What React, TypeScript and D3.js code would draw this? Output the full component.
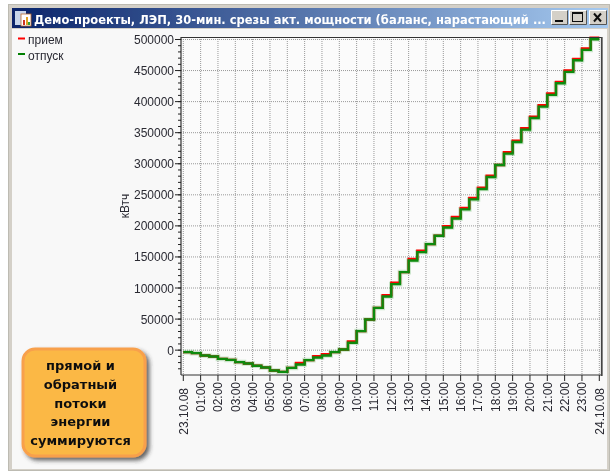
import React from "react";
import * as d3 from "d3";

const otpusk = [
  -3200, -4800, -8600, -10200, -14000, -15600, -19300, -21500, -25000, -28000, -32700, -35000,
  -28500, -23000, -16000, -11800, -8600, -3200, 1000, 11800, 30600, 49400, 68000, 86400,
  106300, 125600, 144400, 157800, 170700, 184000, 197300, 212000, 226600, 242700, 259400, 278700,
  298000, 316300, 335000, 355000, 373700, 392000, 410800, 429600, 447800, 466600, 483300, 500500,
];
const priem = [
  -3200, -4800, -8600, -10200, -14000, -15600, -19300, -21500, -25000, -28000, -32700, -35000,
  -28500, -20800, -16000, -9600, -6600, -3200, 1000, 14000, 30600, 49400, 68000, 88600,
  108500, 125600, 146800, 160000, 170700, 184000, 199300, 214200, 228800, 244900, 261600, 280900,
  298000, 318500, 337200, 357200, 375900, 394200, 413000, 431800, 450000, 468800, 485500, 502700,
];
const yTicks = [0, 50000, 100000, 150000, 200000, 250000, 300000, 350000, 400000, 450000, 500000];
const yMinor = d3.range(-30000, 501000, 10000);
const hourLabels = [
  "23.10.08", "01:00", "02:00", "03:00", "04:00", "05:00", "06:00", "07:00", "08:00", "09:00",
  "10:00", "11:00", "12:00", "13:00", "14:00", "15:00", "16:00", "17:00", "18:00", "19:00",
  "20:00", "21:00", "22:00", "23:00", "24.10.08",
];
const noteLines = ["прямой и", "обратный", "потоки", "энергии", "суммируются"];
const legendItems = [
  { label: "прием", color: "#ff0000" },
  { label: "отпуск", color: "#008000" },
];
const titleText = "Демо-проекты, ЛЭП, 30-мин. срезы акт. мощности (баланс, нарастающий ...";

const x = d3.scaleLinear().domain([0, 24]).range([183.3, 599.3]);
const y = d3.scaleLinear().domain([-40000, 504000]).range([375, 37]);
const stepLine = d3
  .line<number>()
  .x((_, i) => x(i / 2))
  .y((d) => y(d))
  .curve(d3.curveStepAfter);
const withEnd = (a: number[]) => [...a, a[a.length - 1]];

const sans = "'Liberation Sans', Arial, sans-serif";
const bold = "'DejaVu Sans', Verdana, sans-serif";
const text = "#2a2a33";

function WinButton({ bx, w, children }: { bx: number; w: number; children: React.ReactNode }) {
  return (
    <g transform={`translate(${bx},10)`}>
      <rect width={w} height={15} fill="#d4d0c8" />
      <path d={`M0.5,15V0.5H${w - 0.5}`} fill="none" stroke="#fff" />
      <path d={`M${w - 0.5},0.5V14.5H0.5`} fill="none" stroke="#555" />
      {children}
    </g>
  );
}

export default function App() {
  return (
    <svg
      width={612}
      height={473}
      style={{ position: "absolute", left: 0, top: 0 }}
      fontFamily={sans}
    >
      <defs>
        <linearGradient id="tb" x1="0" x2="1" y1="0" y2="0">
          <stop offset="0" stopColor="#0a246a" />
          <stop offset="1" stopColor="#a6caf0" />
        </linearGradient>
        <filter id="soft" filterUnits="userSpaceOnUse" x="0" y="0" width="612" height="473">
          <feGaussianBlur stdDeviation="0.35" />
        </filter>
        <filter id="shadow" x="-10%" y="-10%" width="125%" height="125%">
          <feDropShadow dx="3" dy="3" stdDeviation="2" floodColor="#333" floodOpacity="0.75" />
        </filter>
      </defs>
      <g filter="url(#soft)">
        <rect width={612} height={473} fill="#fff" />
        <rect x={8.5} y={4.5} width={601} height={466} fill="#d4d0c8" stroke="#bdbbb2" />
        <rect x={12} y={29} width={595} height={440} fill="#f8f8f8" />
        <rect x={12} y={8} width={596} height={20} fill="url(#tb)" />

        {/* window icon */}
        <rect x={15} y={11} width={11} height={14} fill="#c9d6ea" />
        <rect x={21} y={14} width={10} height={12} fill="#fff" stroke="#b86a30" strokeWidth={0.8} />
        <rect x={23} y={20} width={2} height={5} fill="#d03020" />
        <rect x={26} y={17} width={2} height={8} fill="#e0a020" />
        <rect x={28} y={22} width={2} height={3} fill="#30a030" />

        <text
          x={34}
          y={23.5}
          fill="#fff"
          fontFamily={bold}
          fontWeight={700}
          fontSize={13}
          textLength={512}
          lengthAdjust="spacingAndGlyphs"
        >
          {titleText}
        </text>

        <WinButton bx={551} w={17}>
          <rect x={4} y={10} width={8} height={2} fill="#111" />
        </WinButton>
        <WinButton bx={569} w={18}>
          <rect x={3.5} y={2.5} width={10} height={9} fill="none" stroke="#111" />
          <rect x={3} y={2} width={11} height={2} fill="#111" />
        </WinButton>
        <WinButton bx={589} w={18}>
          <path d="M5,3.5L12,11.5M12,3.5L5,11.5" stroke="#111" strokeWidth={2} />
        </WinButton>

        {/* legend */}
        {legendItems.map((it, i) => (
          <g key={it.label}>
            <rect x={18} y={37.5 + i * 15.5} width={7} height={2} fill={it.color} />
            <text x={28} y={44 + i * 15.5} fontSize={12} fill={text}>
              {it.label}
            </text>
          </g>
        ))}

        {/* plot */}
        <rect x={181} y={37} width={420.5} height={338} fill="#fbfbfb" />
        {yTicks.map((t) => (
          <line
            key={t}
            x1={181}
            x2={601}
            y1={y(t)}
            y2={y(t)}
            stroke="#999"
            strokeDasharray="1 1"
          />
        ))}
        {hourLabels.map((_, i) => (
          <line
            key={i}
            x1={x(i)}
            x2={x(i)}
            y1={37}
            y2={375}
            stroke="#999"
            strokeDasharray="1 1"
          />
        ))}

        {/* series */}
        <path d={stepLine(withEnd(otpusk))!} fill="none" stroke="#0a8a0a" strokeOpacity={0.2} strokeWidth={4.6} />
        <path d={stepLine(withEnd(priem))!} fill="none" stroke="#ff0000" strokeWidth={2.4} />
        <path d={stepLine(withEnd(otpusk))!} fill="none" stroke="#0a8a0a" strokeWidth={2.4} />

        {/* frame */}
        <path d="M181,375V37.5H601.5V375H181" fill="none" stroke="#333" strokeWidth={1.2} />
        <line x1={601.8} x2={601.8} y1={37} y2={376} stroke="#444" strokeWidth={1.6} />

        {/* y axis */}
        {yMinor.map((t) => (
          <line key={t} x1={178} x2={181} y1={y(t)} y2={y(t)} stroke="#222" />
        ))}
        {yTicks.map((t) => (
          <g key={t}>
            <line x1={175} x2={181} y1={y(t)} y2={y(t)} stroke="#222" />
            <text x={174} y={y(t) + 4.5} textAnchor="end" fontSize={12} fill={text}>
              {t}
            </text>
          </g>
        ))}
        <text
          transform="translate(129,206) rotate(-90)"
          textAnchor="middle"
          fontSize={12}
          fill={text}
        >
          кВтч
        </text>

        {/* x axis */}
        {hourLabels.map((l, i) => {
          const isDate = l.length > 5;
          return (
            <g key={l}>
              <line x1={x(i)} x2={x(i)} y1={375} y2={381} stroke="#222" />
              <text
                transform={`translate(${x(i) + 4.5},${isDate ? 388 : 382}) rotate(-90)`}
                textAnchor="end"
                fontSize={12}
                fill={text}
              >
                {l}
              </text>
            </g>
          );
        })}

        {/* note */}
        <rect
          x={23}
          y={349}
          width={122}
          height={107}
          rx={12}
          fill="#fbb845"
          stroke="#f8a04c"
          strokeWidth={3}
          filter="url(#shadow)"
        />
        {noteLines.map((l, i) => (
          <text
            key={l}
            x={80.5}
            y={370 + i * 18.8}
            textAnchor="middle"
            fontFamily={bold}
            fontWeight={700}
            fontSize={13}
            fill="#111"
          >
            {l}
          </text>
        ))}
      </g>
    </svg>
  );
}
